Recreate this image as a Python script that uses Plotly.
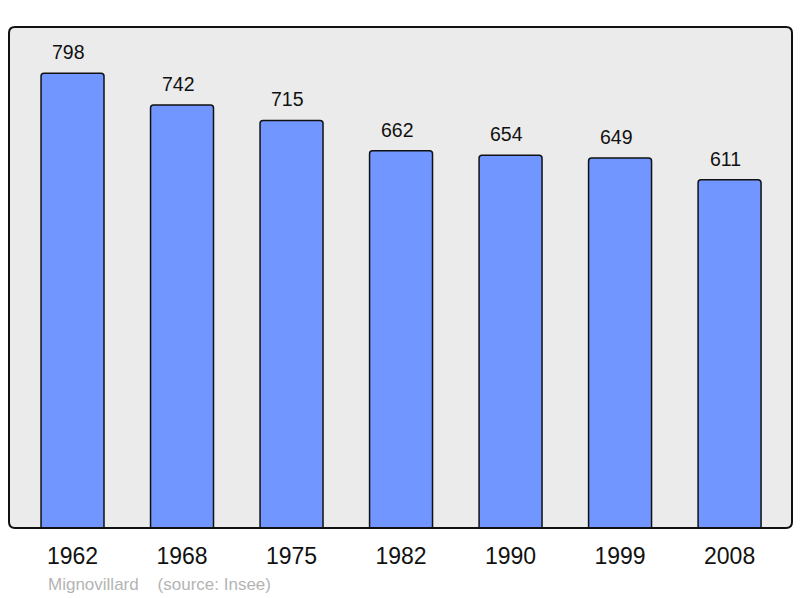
import plotly.graph_objects as go

years = ["1962", "1968", "1975", "1982", "1990", "1999", "2008"]
population = [798, 742, 715, 662, 654, 649, 611]
source_text = "Mignovillard    (source: Insee)"

xs = list(range(len(years)))
FONT = "Liberation Sans, Arial, sans-serif"

fig = go.Figure()
fig.add_trace(go.Bar(
    x=xs, y=population, width=0.575,
    marker=dict(color="#7196ff", line=dict(color="#111111", width=1.5), cornerradius=3),
    hoverinfo="skip",
))

for x, v in zip(xs, population):
    fig.add_annotation(x=x, y=v, text=str(v), showarrow=False, xref="x", yref="y",
                       yanchor="bottom", yshift=8, xshift=-4,
                       font=dict(family=FONT, size=19.5, color="#111111"))

fig.add_annotation(xref="paper", yref="paper", x=(46 - 9) / 783, y=-(584 - 528) / 501,
                   text=source_text, showarrow=False, xanchor="left", yanchor="middle",
                   font=dict(family=FONT, size=17, color="#b4b4b4"))

W, H = 783, 501
rx, ry = 6 / W, 6 / H
path = (f"M {rx},0 L {1-rx},0 Q 1,0 1,{ry} L 1,{1-ry} Q 1,1 {1-rx},1 L {rx},1 Q 0,1 0,{1-ry} "
        f"L 0,{ry} Q 0,0 {rx},0 Z")
fig.add_shape(type="path", path=path, xref="paper", yref="paper", layer="below",
              fillcolor="#ebebeb", line=dict(width=0))
fig.add_shape(type="path", path=path, xref="paper", yref="paper", layer="above",
              fillcolor="rgba(0,0,0,0)", line=dict(color="#111111", width=2))

fig.update_layout(
    width=800, height=598,
    margin=dict(l=9, r=8, t=27, b=70),
    paper_bgcolor="white", plot_bgcolor="rgba(0,0,0,0)",
    showlegend=False,
    xaxis=dict(range=[-0.58, 6.57], tickvals=xs, ticktext=years, ticks="", showgrid=False,
               zeroline=False, showline=False, ticklabelstandoff=12,
               tickfont=dict(family=FONT, size=23, color="#111111")),
    yaxis=dict(range=[0, 879], showticklabels=False, showgrid=False, zeroline=False,
               showline=False, ticks=""),
)

fig.write_html("out.html", config={"displayModeBar": False},
               post_script="document.body.style.margin='0';document.body.style.overflow='hidden';")
